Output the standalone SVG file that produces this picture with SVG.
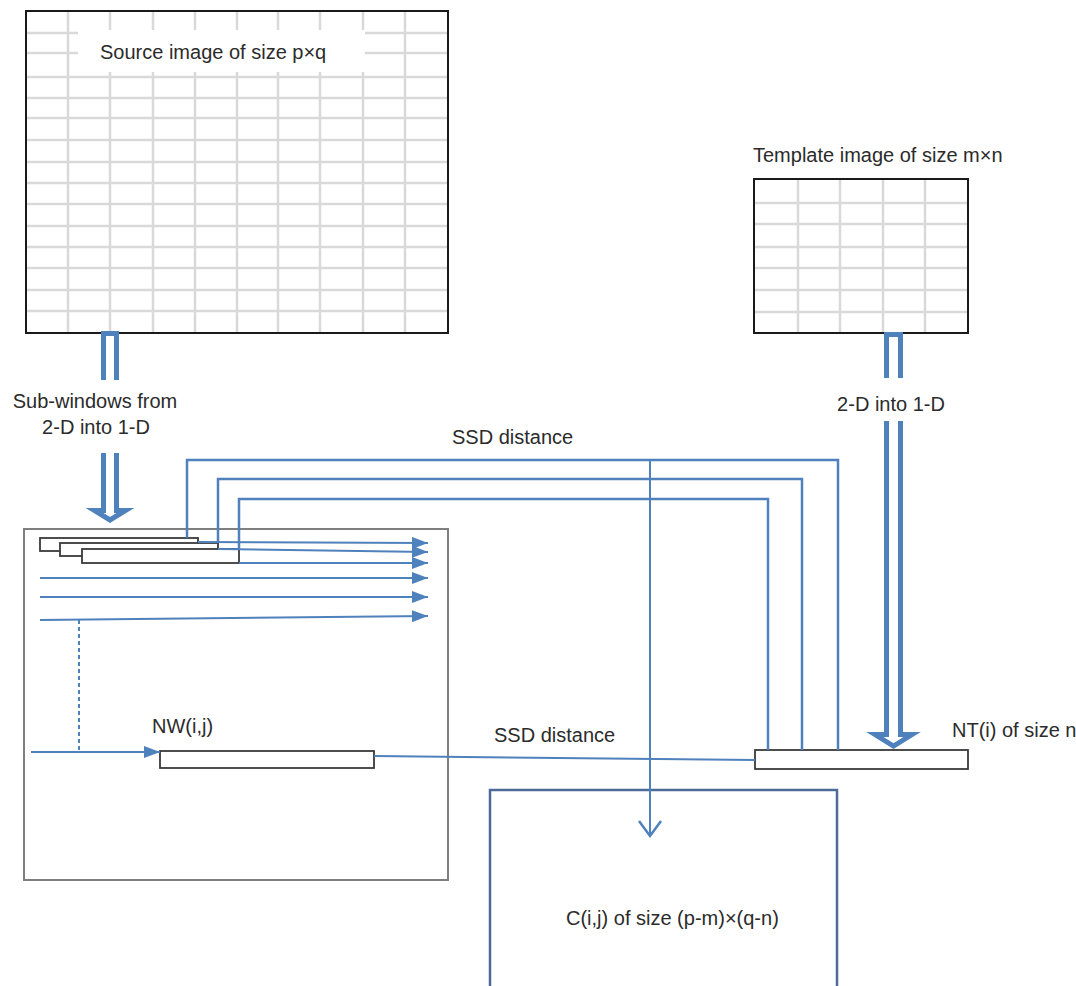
<svg xmlns="http://www.w3.org/2000/svg" width="1076" height="986" viewBox="0 0 1076 986">
<style>
.grid{stroke:#d9d9d9;stroke-width:2.5;fill:none}
.frame{fill:none;stroke:#1a1a1a;stroke-width:2}
.blue{fill:none;stroke:#4f81bd;stroke-width:2.5}
.thin{fill:none;stroke:#4f81bd;stroke-width:2}
.dbl{fill:#fff;stroke:#4f81bd;stroke-width:5;stroke-linejoin:miter}
.win{fill:#fff;stroke:#3a3a3a;stroke-width:1.8}
text{font-family:"Liberation Sans",Arial,sans-serif;font-size:20px;fill:#2b2b2b}
</style>
<defs>
<marker id="ah" viewBox="0 0 16 12" refX="16" refY="6" markerWidth="16" markerHeight="12" markerUnits="userSpaceOnUse" orient="auto">
<path d="M0 0L16 6L0 12Z" fill="#4f81bd"/>
</marker>
</defs>
<rect width="1076" height="986" fill="#fff"/>

<g id="source">
<g class="grid">
<path d="M68 11V333M110 11V333M153 11V333M195 11V333M237 11V333M278 11V333M320 11V333M363 11V333M405 11V333"/>
<path d="M26 33H448M26 53H448M26 77H448M26 98H448M26 118H448M26 140H448M26 162H448M26 183H448M26 204H448M26 226H448M26 247H448M26 268H448M26 290H448M26 311H448"/>
</g>
<rect x="78" y="30" width="287" height="42" fill="#fff"/>
<rect class="frame" x="26" y="11" width="422" height="322"/>
<text x="100" y="59">Source image of size p×q</text>
</g>

<g id="template">
<g class="grid">
<path d="M798 179V333M840 179V333M883 179V333M925 179V333"/>
<path d="M754 203H968M754 224H968M754 247H968M754 268H968M754 290H968M754 312H968"/>
</g>
<rect class="frame" x="754" y="179" width="214" height="154"/>
<text x="753" y="162">Template image of size m×n</text>
</g>

<g id="windows-box">
<rect x="24" y="529" width="424" height="351" fill="none" stroke="#7f7f7f" stroke-width="2"/>
<rect class="win" x="40" y="538" width="158" height="13"/>
<rect class="win" x="60" y="543" width="158" height="13"/>
<rect class="win" x="82" y="549" width="157" height="14"/>
</g>

<g id="nw">
<rect class="win" x="160" y="751" width="214" height="17" stroke="#404040"/>
<text x="152" y="733">NW(i,j)</text>
</g>

<g id="nt">
<rect class="win" x="755" y="750" width="213" height="19" stroke="#404040"/>
<text x="952" y="737">NT(i) of size n</text>
</g>

<g id="result">
<path d="M490 990V790H837V990" fill="none" stroke="#4d6b96" stroke-width="2.5"/>
<text x="566" y="925">C(i,j) of size (p-m)×(q-n)</text>
</g>

<g id="connectors">
<path class="dbl" d="M103.5 380V333.5H116.5V380" fill="none"/>
<path class="dbl" d="M103.5 453V510.5H94.5L110 520L125.5 510.5H116.5V453"/>
<path class="dbl" d="M886.5 378V334.5H900.5V378" fill="none"/>
<path class="dbl" d="M886.5 421V734.5H875L893.5 746L912 734.5H900.5V421"/>

<path class="thin" d="M198 542L428 543" marker-end="url(#ah)"/>
<path class="thin" d="M218 549L428 552" marker-end="url(#ah)"/>
<path class="thin" d="M239 563H428" marker-end="url(#ah)"/>
<path class="thin" d="M40 578H428" marker-end="url(#ah)"/>
<path class="thin" d="M40 597H428" marker-end="url(#ah)"/>
<path class="thin" d="M40 620L428 616" marker-end="url(#ah)"/>

<path class="blue" d="M187 538V460H838V750"/>
<path class="blue" d="M218 543V479H802V750"/>
<path class="blue" d="M239 549V499H768V750"/>
<path class="thin" d="M650 460V836"/>
<path class="blue" d="M639 821L650 836L661 821"/>

<path class="thin" d="M79 620V752" stroke-dasharray="4 3"/>
<path class="thin" d="M31 752H160" marker-end="url(#ah)"/>
<path class="thin" d="M374 756L755 760"/>
</g>

<g id="labels">
<text x="95" y="408" text-anchor="middle">Sub-windows from</text>
<text x="96" y="434" text-anchor="middle">2-D into 1-D</text>
<text x="452" y="444">SSD distance</text>
<text x="891" y="411" text-anchor="middle">2-D into 1-D</text>
<text x="494" y="742">SSD distance</text>
</g>
</svg>
